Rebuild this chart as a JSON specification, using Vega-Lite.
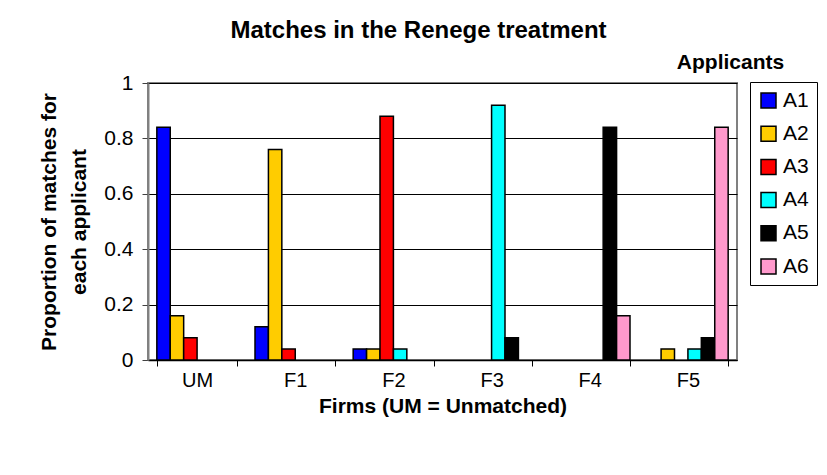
{
  "$schema": "https://vega.github.io/schema/vega-lite/v6.json",
  "autosize": {"type": "none"},
  "padding": {"left": 148, "top": 83, "right": 90, "bottom": 115},
  "width": 589,
  "height": 277,
  "background": "white",
  "title": {
    "text": "Matches in the Renege treatment",
    "font": "Liberation Sans",
    "fontSize": 24,
    "fontWeight": "bold",
    "color": "black",
    "anchor": "middle",
    "dx": -24,
    "offset": 8
  },
  "data": {
    "values": [
      {"firm": "UM", "applicant": "A1", "value": 0.84},
      {"firm": "UM", "applicant": "A2", "value": 0.16},
      {"firm": "UM", "applicant": "A3", "value": 0.08},
      {"firm": "UM", "applicant": "A4", "value": 0},
      {"firm": "UM", "applicant": "A5", "value": 0},
      {"firm": "UM", "applicant": "A6", "value": 0},
      {"firm": "F1", "applicant": "A1", "value": 0.12},
      {"firm": "F1", "applicant": "A2", "value": 0.76},
      {"firm": "F1", "applicant": "A3", "value": 0.04},
      {"firm": "F1", "applicant": "A4", "value": 0},
      {"firm": "F1", "applicant": "A5", "value": 0},
      {"firm": "F1", "applicant": "A6", "value": 0},
      {"firm": "F2", "applicant": "A1", "value": 0.04},
      {"firm": "F2", "applicant": "A2", "value": 0.04},
      {"firm": "F2", "applicant": "A3", "value": 0.88},
      {"firm": "F2", "applicant": "A4", "value": 0.04},
      {"firm": "F2", "applicant": "A5", "value": 0},
      {"firm": "F2", "applicant": "A6", "value": 0},
      {"firm": "F3", "applicant": "A1", "value": 0},
      {"firm": "F3", "applicant": "A2", "value": 0},
      {"firm": "F3", "applicant": "A3", "value": 0},
      {"firm": "F3", "applicant": "A4", "value": 0.92},
      {"firm": "F3", "applicant": "A5", "value": 0.08},
      {"firm": "F3", "applicant": "A6", "value": 0},
      {"firm": "F4", "applicant": "A1", "value": 0},
      {"firm": "F4", "applicant": "A2", "value": 0},
      {"firm": "F4", "applicant": "A3", "value": 0},
      {"firm": "F4", "applicant": "A4", "value": 0},
      {"firm": "F4", "applicant": "A5", "value": 0.84},
      {"firm": "F4", "applicant": "A6", "value": 0.16},
      {"firm": "F5", "applicant": "A1", "value": 0},
      {"firm": "F5", "applicant": "A2", "value": 0.04},
      {"firm": "F5", "applicant": "A3", "value": 0},
      {"firm": "F5", "applicant": "A4", "value": 0.04},
      {"firm": "F5", "applicant": "A5", "value": 0.08},
      {"firm": "F5", "applicant": "A6", "value": 0.84}
    ]
  },
  "layer": [
    {
      "mark": {"type": "bar", "stroke": "black"},
      "encoding": {
        "x": {
          "field": "firm",
          "type": "nominal",
          "sort": ["UM", "F1", "F2", "F3", "F4", "F5"],
          "scale": {"paddingInner": 0.18, "paddingOuter": 0.09},
          "axis": {
            "title": "Firms (UM = Unmatched)",
            "labelAngle": 0,
            "labelFontSize": 20,
            "tickBand": "extent",
            "tickSize": 6,
            "tickColor": "black",
            "domainColor": "black",
            "domainWidth": 1.5,
            "labelPadding": 4,
            "titlePadding": 5
          }
        },
        "xOffset": {
          "field": "applicant",
          "type": "nominal",
          "scale": {"paddingInner": 0, "paddingOuter": 0}
        },
        "y": {
          "field": "value",
          "type": "quantitative",
          "scale": {"domain": [0, 1]},
          "axis": {
            "title": ["Proportion of matches for", "each applicant"],
            "titleLineHeight": 30,
            "values": [0, 0.2, 0.4, 0.6, 0.8, 1],
            "format": "~g",
            "labelFontSize": 21,
            "tickSize": 6,
            "tickColor": "#404040",
            "domainColor": "#808080",
            "domainWidth": 2,
            "grid": true,
            "gridColor": "black",
            "gridWidth": 1,
            "labelPadding": 9,
            "titlePadding": 14
          }
        },
        "strokeWidth": {
          "condition": {"test": "datum.value == 0", "value": 0},
          "value": 1.5
        },
        "color": {
          "field": "applicant",
          "type": "nominal",
          "scale": {
            "domain": ["A1", "A2", "A3", "A4", "A5", "A6"],
            "range": ["#0000FF", "#FFCC00", "#FF0000", "#00FFFF", "#000000", "#FF99CC"]
          },
          "legend": {
            "title": null,
            "orient": "none",
            "legendX": 602,
            "legendY": -1,
            "strokeColor": "black",
            "fillColor": "white",
            "padding": 8,
            "symbolType": "square",
            "symbolSize": 225,
            "symbolStrokeColor": "black",
            "symbolStrokeWidth": 1.5,
            "symbolOpacity": 1,
            "labelFontSize": 21,
            "labelOffset": 4,
            "rowPadding": 11.2
          }
        }
      }
    },
    {
      "mark": {"type": "rule", "opacity": 0},
      "encoding": {
        "x": {
          "field": "firm",
          "type": "nominal",
          "sort": ["UM", "F1", "F2", "F3", "F4", "F5"],
          "axis": {
            "orient": "top",
            "title": "Applicants",
            "titleFontSize": 21,
            "labels": false,
            "ticks": false,
            "domain": false,
            "grid": false,
            "titleX": 582,
            "titleY": -21,
            "titleAlign": "center",
            "titleBaseline": "middle",
            "titleAngle": 0
          }
        }
      }
    }
  ],
  "resolve": {"axis": {"x": "independent"}},
  "config": {
    "font": "Liberation Sans",
    "view": {"stroke": "#808080", "strokeWidth": 2},
    "axis": {
      "labelFont": "Liberation Sans",
      "labelFontSize": 20,
      "labelColor": "black",
      "titleFont": "Liberation Sans",
      "titleFontSize": 21,
      "titleFontWeight": "bold",
      "titleColor": "black"
    },
    "legend": {
      "labelFont": "Liberation Sans",
      "labelColor": "black"
    }
  }
}
